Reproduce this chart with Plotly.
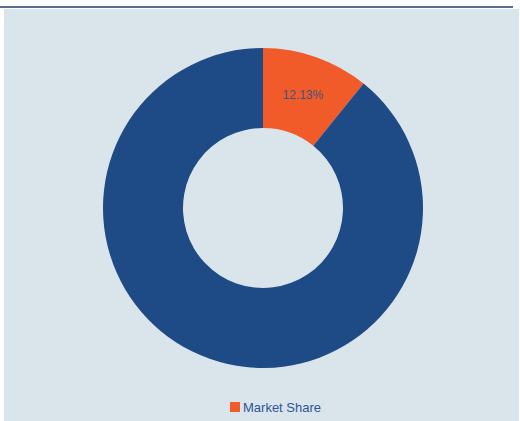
import plotly.graph_objects as go

labels = ["Market Share", "Total"]
values = [12.13, 100]
slice_text = ["12.13%", ""]
colors = ["#f15a29", "#1e4a86"]
legend_label = "Market Share"

W, H = 520, 421
cx, cy, R = 263, 208, 160

fig = go.Figure()
fig.add_trace(go.Pie(
    labels=labels, values=values, text=slice_text, textinfo="text",
    hole=0.5, sort=False, direction="clockwise", rotation=0,
    marker=dict(colors=colors, line=dict(width=0)),
    textposition="inside", insidetextorientation="horizontal",
    textfont=dict(family="Liberation Sans, Arial", size=12, color="#3a5683"),
    hoverinfo="none", showlegend=False,
    domain=dict(x=[(cx - R) / W, (cx + R) / W], y=[1 - (cy + R) / H, 1 - (cy - R) / H]),
))
fig.update_layout(
    width=W, height=H, margin=dict(l=0, r=0, t=0, b=0),
    paper_bgcolor="white",
    showlegend=False,
    shapes=[
        dict(type="rect", xref="paper", yref="paper", x0=4 / W, x1=519 / W, y0=0, y1=1 - 9 / H,
             fillcolor="#d9e5eb", line=dict(width=0), layer="below"),
        dict(type="line", xref="paper", yref="paper", x0=0, x1=513 / W, y0=1 - 7 / H, y1=1 - 7 / H,
             line=dict(color="#1f3f6a", width=1.5), layer="below"),
        dict(type="rect", xref="paper", yref="paper", x0=230 / W, x1=240 / W,
             y0=1 - 412 / H, y1=1 - 402 / H, fillcolor=colors[0], line=dict(width=0)),
    ],
    annotations=[
        dict(text=legend_label, xref="paper", yref="paper", x=241 / W, y=1 - 407 / H,
             xanchor="left", yanchor="middle", showarrow=False,
             font=dict(family="Liberation Sans, Arial", size=13, color="#2f5597")),
    ],
)
fig.write_html("out.html")
